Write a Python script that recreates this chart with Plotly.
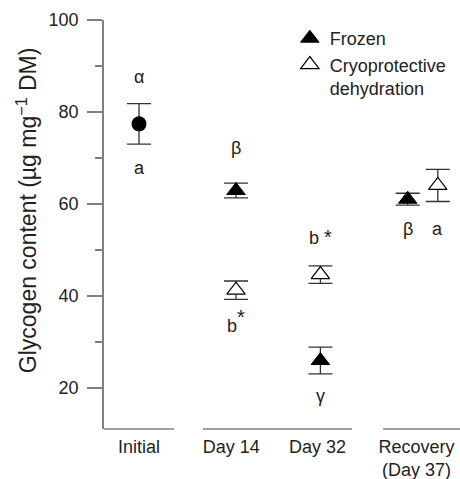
import plotly.graph_objects as go

# ---- data ----
categories = ["Initial", "Day 14", "Day 32", "Recovery<br>(Day 37)"]
initial_mean = [77.4]
initial_err = [4.4]
frozen_mean = [62.9, 25.9, 61.0]
frozen_err = [1.6, 2.9, 1.3]
cryo_mean = [41.2, 44.6, 64.0]
cryo_err = [2.0, 1.9, 3.5]
y_ticks = [20, 40, 60, 80, 100]

# letters (text, value)
letter_text = ["α", "a", "β", "b<sup><span style='font-size:20px'>*</span></sup>",
               "b <span style='font-size:20px'>*</span>", "γ", "β", "a"]
letter_y = [87.5, 67.8, 72.1, 34.6, 52.8, 18.2, 54.6, 54.6]

# ---- layout positions (x units) ----
pos_initial = [0.0]
pos_frozen = [1.0, 1.87, 2.77]
pos_cryo = [1.0, 1.87, 3.08]
tick_pos = [0.0, 0.95, 1.84, 2.86]
letter_x = [0.0, 0.0, 1.0, 1.0, 1.87, 1.87, 2.77, 3.08]
segments = [(-0.361, 0.361), (0.66, 2.196), (2.515, 3.309)]

FONT = "Liberation Sans, Arial, Helvetica, sans-serif"
TXT = "#222222"
AX = "#808080"

fig = go.Figure()

fig.add_trace(go.Scatter(
    x=pos_initial, y=initial_mean, mode="markers", showlegend=False,
    marker=dict(symbol="circle", size=15, color="black"),
    error_y=dict(type="data", array=initial_err, color="#333333", thickness=1.3, width=12),
))
fig.add_trace(go.Scatter(
    x=pos_frozen, y=frozen_mean, mode="markers", name="Frozen",
    marker=dict(symbol="triangle-up", size=16, color="black", line=dict(color="black", width=1)),
    error_y=dict(type="data", array=frozen_err, color="#333333", thickness=1.3, width=12),
))
fig.add_trace(go.Scatter(
    x=pos_cryo, y=cryo_mean, mode="markers", name="Cryoprotective<br>dehydration",
    marker=dict(symbol="triangle-up", size=16, color="white", line=dict(color="black", width=1.2)),
    error_y=dict(type="data", array=cryo_err, color="#333333", thickness=1.3, width=12),
))

for t, x, y in zip(letter_text, letter_x, letter_y):
    fig.add_annotation(x=x, y=y, text=t, showarrow=False,
                       font=dict(family=FONT, size=18, color=TXT))

for x0, x1 in segments:
    fig.add_shape(type="line", xref="x", yref="paper", x0=x0, x1=x1, y0=0, y1=0,
                  line=dict(color=AX, width=1.5))

# y-axis title as a rotated annotation
fig.add_annotation(xref="paper", yref="paper", x=0, y=0.535, xshift=-77,
                   xanchor="center", yanchor="middle", textangle=-90, showarrow=False,
                   text="Glycogen content (µg mg<sup>−1</sup> DM)",
                   font=dict(family=FONT, size=23, color=TXT))

fig.update_layout(
    width=460, height=479,
    margin=dict(l=104, r=0, t=20, b=50),
    paper_bgcolor="white", plot_bgcolor="white",
    font=dict(family=FONT, size=18, color=TXT),
    legend=dict(x=0.522, y=1.0, xanchor="left", yanchor="top",
                bgcolor="rgba(0,0,0,0)", tracegroupgap=0, valign="top",
                font=dict(family=FONT, size=18, color=TXT)),
    xaxis=dict(range=[-0.361, 3.309], showgrid=False, zeroline=False, showline=False,
               tickmode="array", tickvals=tick_pos, ticktext=categories, ticks="",
               ticklabelstandoff=5,
               tickfont=dict(family=FONT, size=18, color=TXT)),
    yaxis=dict(range=[11, 100], showgrid=False, zeroline=False, showline=True,
               linecolor=AX, linewidth=1.5, tickmode="array", tickvals=y_ticks,
               ticks="outside", ticklen=15, tickwidth=1.5, tickcolor=AX,
               ticklabelstandoff=5,
               minor=dict(tickvals=[30, 50, 70, 90], ticks="outside", ticklen=7,
                          tickwidth=1.5, tickcolor=AX),
               tickfont=dict(family=FONT, size=18, color=TXT)),
)

fig.write_html("out.html")
